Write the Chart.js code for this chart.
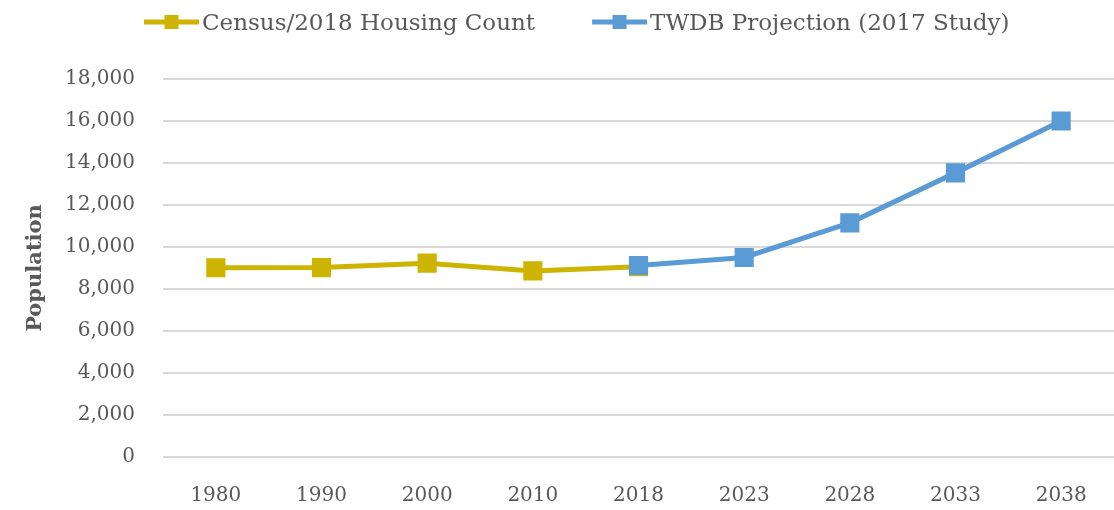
<!DOCTYPE html>
<html>
<head>
<meta charset="utf-8">
<script src="https://cdn.jsdelivr.net/npm/chart.js@4"></script>
<style>
  html, body { margin: 0; padding: 0; background: #fff; overflow: hidden; }
  #wrap { width: 1114px; height: 510px; }
</style>
</head>
<body>
<div id="wrap"><canvas id="chart"></canvas></div>
<script>
// 資料
const years = ['1980', '1990', '2000', '2010', '2018', '2023', '2028', '2033', '2038'];
const censusCount = [9010, 9020, 9230, 8860, 9060, null, null, null, null];
const twdbProjection = [null, null, null, null, 9120, 9500, 11150, 13530, 16000];
const yTicks = [0, 2000, 4000, 6000, 8000, 10000, 12000, 14000, 16000, 18000];

const colors = {
  gold: '#CDB400',
  blue: '#5B9BD5',
  text: '#595959',
  grid: '#D9D9D9'
};

const FONT = "'DejaVu Serif', 'Liberation Serif', serif";

/**
 * 上方圖例：線 + 方塊 + 文字
 */
const lineLegend = {
  id: 'lineLegend',
  afterDraw(chart, args, opts) {
    const ctx = chart.ctx;
    const datasets = chart.data.datasets;
    ctx.save();
    ctx.font = `${opts.fontSize}px ${FONT}`;
    ctx.textBaseline = 'middle';
    ctx.textAlign = 'left';
    let x = opts.startX;
    const y = opts.y;
    datasets.forEach(ds => {
      const c = ds.borderColor;
      ctx.strokeStyle = c;
      ctx.lineWidth = 5;
      ctx.beginPath();
      ctx.moveTo(x, y);
      ctx.lineTo(x + opts.iconWidth, y);
      ctx.stroke();
      ctx.fillStyle = c;
      ctx.fillRect(x + opts.iconWidth / 2 - 7, y - 7, 14, 14);
      ctx.fillStyle = colors.text;
      const tx = x + opts.iconWidth + 3;
      ctx.fillText(ds.label, tx, y + 2);
      x = tx + ctx.measureText(ds.label).width + opts.gap;
    });
    ctx.restore();
  }
};

new Chart(document.getElementById('chart'), {
  type: 'line',
  data: {
    labels: years,
    datasets: [
      {
        label: 'Census/2018 Housing Count',
        data: censusCount,
        borderColor: colors.gold,
        backgroundColor: colors.gold,
        borderWidth: 5,
        pointStyle: 'rect',
        pointRadius: 10,
        pointHoverRadius: 10,
        order: 1
      },
      {
        label: 'TWDB Projection (2017 Study)',
        data: twdbProjection,
        borderColor: colors.blue,
        backgroundColor: colors.blue,
        borderWidth: 5,
        pointStyle: 'rect',
        pointRadius: 10,
        pointHoverRadius: 10,
        order: 0
      }
    ]
  },
  plugins: [lineLegend],
  options: {
    responsive: true,
    maintainAspectRatio: false,
    animation: false,
    layout: {
      autoPadding: false,
      padding: { left: 23, right: -4, top: 79, bottom: 0 }
    },
    plugins: {
      legend: { display: false },
      tooltip: { enabled: false },
      lineLegend: { startX: 144, y: 22, iconWidth: 55, gap: 57, fontSize: 23 }
    },
    scales: {
      x: {
        offset: true,
        grid: { display: false, drawTicks: true, tickLength: 27 },
        border: { display: false },
        ticks: {
          color: colors.text,
          padding: 0,
          font: { family: FONT, size: 20 }
        },
        afterFit(scale) { scale.height = 53; }
      },
      y: {
        min: 0,
        max: 18000,
        afterBuildTicks(scale) {
          scale.ticks = yTicks.map(v => ({ value: v }));
        },
        grid: { color: colors.grid, lineWidth: 2, drawTicks: false },
        border: { display: false },
        ticks: {
          color: colors.text,
          padding: 28,
          font: { family: FONT, size: 20 },
          callback: v => v.toLocaleString('en-US')
        },
        title: {
          display: true,
          text: 'Population',
          color: colors.text,
          padding: 0,
          font: { family: FONT, size: 21, weight: 'bold' }
        },
        afterFit(scale) { scale.width = 140; }
      }
    }
  }
});
</script>
</body>
</html>
